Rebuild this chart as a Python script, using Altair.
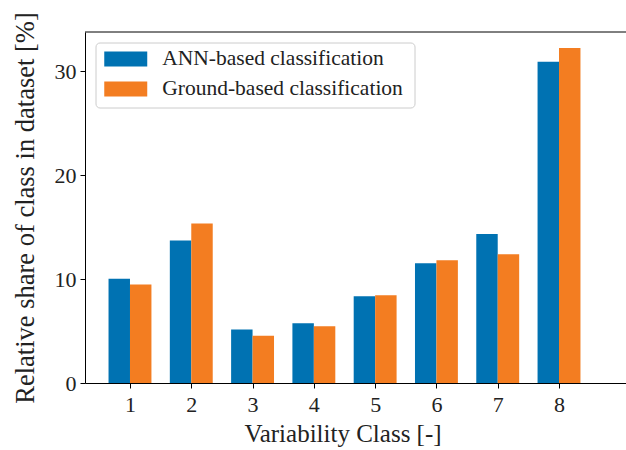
import altair as alt
import pandas as pd

classes = [1, 2, 3, 4, 5, 6, 7, 8]
ann_values = [10.05, 13.72, 5.14, 5.76, 8.36, 11.54, 14.34, 30.93]
ground_values = [9.48, 15.36, 4.56, 5.47, 8.46, 11.83, 12.41, 32.27]
series_names = ["ANN-based classification", "Ground-based classification"]
series_colors = ["#0072b2", "#f37d21"]
x_tick_values = [1, 2, 3, 4, 5, 6, 7, 8]
y_tick_values = [0, 10, 20, 30]

rows = []
for i, c in enumerate(classes):
    rows.append({"cls": c, "series": series_names[0], "k": 0, "value": ann_values[i]})
    rows.append({"cls": c, "series": series_names[1], "k": 1, "value": ground_values[i]})
df = pd.DataFrame(rows)

FONT = "Liberation Serif"
W, H = 541, 351

legend_frame = alt.Chart(alt.Data(values=[{"f": 1}])).mark_rect(
    fill="white", stroke="#cccccc", strokeWidth=1, cornerRadius=4
).encode(x=alt.value(11), x2=alt.value(330), y=alt.value(11), y2=alt.value(76))

bars = alt.Chart(df).transform_calculate(
    x0="datum.cls - 0.35 + 0.35 * datum.k",
    x1="datum.cls + 0.35 * datum.k",
).mark_bar(strokeWidth=0).encode(
    x=alt.X("x0:Q",
            scale=alt.Scale(domain=[0.266, 9.093], nice=False, zero=False),
            axis=alt.Axis(values=x_tick_values, title="Variability Class [-]",
                          format="d", grid=False, titlePadding=6, labelPadding=6,
                          titleX=257.5)),
    x2="x1:Q",
    y=alt.Y("value:Q",
            scale=alt.Scale(domain=[0, 33.8], nice=False),
            axis=alt.Axis(values=y_tick_values, title="Relative share of class in dataset [%]",
                          grid=False, labelPadding=4, titlePadding=15, titleFontSize=26.5)),
    y2=alt.datum(0),
    color=alt.Color("series:N",
                    scale=alt.Scale(domain=series_names, range=series_colors),
                    legend=alt.Legend(title=None, orient="none", legendX=11, legendY=8,
                                      symbolType="M-2,-0.7H2V0.7H-2Z", symbolSize=462,
                                      symbolOffset=10.75,
                                      symbolStrokeWidth=0, symbolOpacity=1,
                                      labelFont=FONT, labelFontSize=21.5, labelColor="#222222",
                                      labelOffset=25.5, labelLimit=0, rowPadding=8,
                                      padding=8)),
)

top_spine = alt.Chart(alt.Data(values=[{"f": 1}])).mark_rule(color="black", strokeWidth=1).encode(
    y=alt.value(0), x=alt.value(0), x2=alt.value(W)
)

chart = alt.layer(legend_frame, bars, top_spine).properties(
    width=W, height=H,
    autosize=alt.AutoSizeParams(type="none"),
    padding={"left": 85, "top": 32, "right": 0, "bottom": 67},
).configure_view(stroke=None).configure_axis(
    domainColor="black", domainWidth=1, tickColor="black", tickSize=5, tickWidth=1,
    labelFont=FONT, labelFontSize=22, labelColor="#222222",
    titleFont=FONT, titleFontSize=25, titleFontWeight="normal", titleColor="#222222",
)

chart.save("out.html", embed_options={"renderer": "svg", "actions": False})
